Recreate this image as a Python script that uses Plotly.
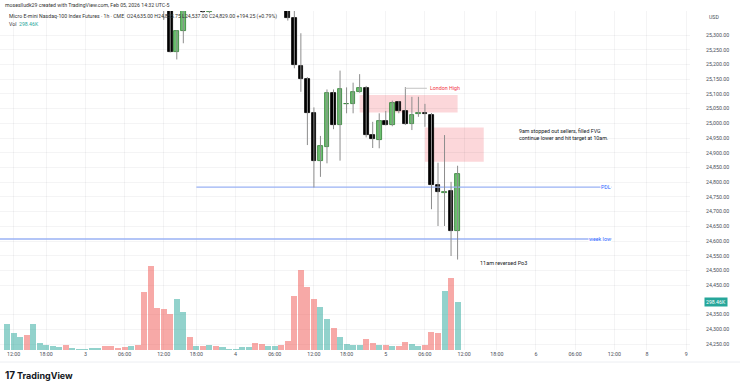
import pandas as pd
import plotly.graph_objects as go

# ---------------- data ----------------
# hourly CME session bars, first bar = Mon Feb 2 2026 11:00 (chart time UTC-5)
n_bars = 70
# volume in thousands of contracts
volume_k = [159, 107, 78, 92, 159, 44, 29, 23, 21, 29,
            15, 9, 9, 13, 15, 25, 23, 15, 17, 27,
            34, 358, 524, 264, 256, 222, 317, 235, 82, 27,
            25, 31, 27, 17, 9, 9, 17, 17, 42, 38,
            25, 23, 31, 55, 335, 495, 394, 317, 266, 193,
            140, 84, 36, 29, 29, 69, 46, 34, 29, 23,
            25, 50, 38, 25, 29, 111, 105, 369, 449, 298.46]
# 1 = up bar, 0 = down bar (volume colouring)
bar_up = [1, 1, 1, 0, 1, 1, 1, 1, 1, 0,
          1, 1, 1, 1, 1, 0, 0, 0, 0, 1,
          0, 0, 0, 0, 0, 0, 1, 1, 0, 1,
          0, 1, 0, 1, 1, 1, 1, 1, 0, 0,
          1, 1, 0, 0, 0, 0, 0, 0, 1, 1,
          0, 1, 1, 1, 1, 0, 0, 1, 0, 1,
          0, 0, 1, 1, 0, 0, 0, 1, 0, 1]
# OHLC (None = candle above the visible price range)
opens = [None] * 24 + [25445, 25402, 25243, 25315, None, None, 25425, 25377] + [None] * 11 + \
        [25405, 25357, 25196, 25150, 25034, 24872, 24920, 25104, 24994, 25064, 25067, 25106, 25121,
         24960, 24943, 25009, 24994, 25071, 25042, 24997, 25032, 25033, 25028, 24790, 24763, 24770, 24635]
highs = [None] * 24 + [25452, 25408, 25316, 25440, None, None, 25432, 25415] + [None] * 11 + \
        [25412, 25395, 25306, 25157, 25054, 24957, 25115, 25115, 25179, 25122, 25138, 25167, 25127,
         25005, 25034, 25042, 25077, 25076, 25123, 25090, 25090, 25066, 25035, 24866, 24960, 24801, 24855.75]
lows = [None] * 24 + [25351, 25241, 25217, 25272, None, None, 25375, 25374] + [None] * 11 + \
       [25349, 25187, 25107, 24926, 24782, 24818, 24864, 24980, 24873, 25034, 25034, 25104, 24952,
        24916, 24915, 24993, 24990, 25034, 24994, 24977, 25022, 24988, 24708, 24651, 24651, 24549, 24537]
closes = [None] * 24 + [25402, 25243, 25314, 25430, None, None, 25377, 25408] + [None] * 11 + \
         [25357, 25198, 25150, 25034, 24872, 24923, 25104, 24994, 25115, 25067, 25105, 25121, 24960,
          24946, 25008, 24994, 25070, 25042, 24998, 25028, 25034, 25031, 24790, 24765, 24766, 24634.75, 24829]

tick_times = ["2026-02-02 12:00", "2026-02-02 18:00", "2026-02-03 00:00", "2026-02-03 06:00",
              "2026-02-03 12:00", "2026-02-03 18:00", "2026-02-04 00:00", "2026-02-04 06:00",
              "2026-02-04 12:00", "2026-02-04 18:00", "2026-02-05 00:00", "2026-02-05 06:00",
              "2026-02-05 12:00", "2026-02-05 18:00", "2026-02-06 00:00", "2026-02-06 06:00",
              "2026-02-06 12:00", "2026-02-08 18:00", "2026-02-09 00:00"]
tick_labels = ["12:00", "18:00", "3", "06:00", "12:00", "18:00", "4", "06:00", "12:00", "18:00",
               "5", "06:00", "12:00", "18:00", "6", "06:00", "12:00", "8", "9"]

price_ticks = [v for v in range(24250, 25301, 50) if v != 24400]

# drawings (price levels / bar anchors)
fvg_london = dict(t0=54, t1=69, lo=25037, hi=25096)
fvg_9am = dict(t0=64, t1=73, lo=24869, hi=24986)
pdl_level, pdl_start = 24783, 29
week_low_level = 24607
ray_end = 92.6
london_high_level = 25119

# ---------------- bar times (CME Globex hourly sessions) ----------------
times = []
t = pd.Timestamp("2026-02-02 11:00")
while len(times) < 112:
    dow, h = t.dayofweek, t.hour
    closed = (h == 17) or (dow == 4 and h >= 17) or dow == 5 or (dow == 6 and h < 18)
    if not closed:
        times.append(t)
    t += pd.Timedelta(hours=1)
time_index = {ts.strftime("%Y-%m-%d %H:%M"): i for i, ts in enumerate(times)}
tick_idx = [time_index[s] for s in tick_times]

# ---------------- styles ----------------
UP_VOL = "rgba(38,166,154,0.5)"
DN_VOL = "rgba(239,83,80,0.5)"
UP_BODY, UP_EDGE = "#6cc070", "#2e7d32"
DN_BODY, DN_EDGE = "#000000", "#000000"
WICK = "#8d8d8d"
GRID = "rgba(42,46,57,0.05)"
TXT = "#131722"
AX = "#4a4e59"
BLUE = "#9ab2f4"
FONT = "Roboto"

fig = go.Figure()

# horizontal rays (PDL, week low) as line traces
for lvl, x0 in ((pdl_level, pdl_start), (week_low_level, -5)):
    fig.add_trace(go.Scatter(x=[x0, ray_end], y=[lvl, lvl], mode="lines",
                             line=dict(color=BLUE, width=1.4), hoverinfo="skip", showlegend=False))

# wicks
wx, wy = [], []
for k in range(n_bars):
    if highs[k] is None:
        continue
    wx += [k, k, None]
    wy += [lows[k], highs[k], None]
fig.add_trace(go.Scatter(x=wx, y=wy, mode="lines", line=dict(color=WICK, width=1),
                         connectgaps=False, hoverinfo="skip", showlegend=False))

# bodies
bk, bbase, bh, bfill, bedge = [], [], [], [], []
for k in range(n_bars):
    if opens[k] is None:
        continue
    o, c = opens[k], closes[k]
    up = c >= o
    bk.append(k)
    bbase.append(min(o, c))
    bh.append(max(abs(c - o), 3.0))
    bfill.append(UP_BODY if up else DN_BODY)
    bedge.append(UP_EDGE if up else DN_EDGE)
fig.add_trace(go.Bar(x=bk, base=bbase, y=bh, width=0.72,
                     marker=dict(color=bfill, line=dict(color=bedge, width=0.8)),
                     hoverinfo="skip", showlegend=False))

# volume
fig.add_trace(go.Bar(x=list(range(n_bars)), y=volume_k, yaxis="y2", width=0.92,
                     marker=dict(color=[UP_VOL if u else DN_VOL for u in bar_up], line=dict(width=0)),
                     hoverinfo="skip", showlegend=False))

# ---------------- drawings ----------------
shapes = []
for z in (fvg_london, fvg_9am):
    shapes.append(dict(type="rect", xref="x", yref="y", x0=z["t0"], x1=z["t1"], y0=z["lo"], y1=z["hi"],
                       fillcolor="rgba(242,54,69,0.2)", line=dict(width=0), layer="below"))
shapes.append(dict(type="line", xref="x", yref="y", x0=61.0, x1=64.3, y0=london_high_level, y1=london_high_level,
                   line=dict(color="#c4c4c4", width=1)))
# bottom separator
shapes.append(dict(type="line", xref="paper", yref="paper", x0=0, x1=740 / 690,
                   y0=1 - (362 - 11) / 339, y1=1 - (362 - 11) / 339, line=dict(color="#eceef2", width=1)))

PW, PH, MT = 690, 339, 11
def px(x):
    return x / PW
def py(y):
    return 1 - (y - MT) / PH

o, h, l, c = opens[-1], highs[-1], lows[-1], closes[-1]
chg = c - closes[-2]
pct = chg / closes[-2] * 100
ohlc_txt = f"O{o:,.2f} H{h:,.2f} L{l:,.2f} C{c:,.2f} {chg:+,.2f} ({pct:+.2f}%)"

ann = [
    dict(xref="paper", yref="paper", x=px(3), y=py(5.5), xanchor="left", yanchor="middle",
         text="moseslludk29 created with TradingView.com, Feb 05, 2026 14:32 UTC-5",
         font=dict(size=5.2, color="#333")),
    dict(xref="paper", yref="paper", x=px(6.5), y=py(16.7), xanchor="left", yanchor="middle",
         text="Micro E-mini Nasdaq-100 Index Futures · 1h · CME  " + ohlc_txt,
         font=dict(size=5.2, color="#333")),
    dict(xref="paper", yref="paper", x=px(6.5), y=py(24.5), xanchor="left", yanchor="middle",
         text=f"Vol  <span style='color:#26a69a'>{volume_k[-1]:.2f}K</span>",
         font=dict(size=5.2, color="#333")),
    dict(xref="paper", yref="paper", x=px(714), y=py(17), xanchor="center", yanchor="middle",
         text="USD", font=dict(size=5.2, color=AX)),
    dict(xref="paper", yref="y2", x=px(704), y=volume_k[-1], xanchor="left", yanchor="middle",
         text=f"{volume_k[-1]:.2f}K", bgcolor="#26a69a", borderpad=1,
         font=dict(size=5.2, color="white")),
    dict(xref="x", yref="y", x=64.5, y=london_high_level, xanchor="left", yanchor="middle",
         text="London High", font=dict(size=5.3, color="#f23645")),
    dict(xref="x", yref="y", x=78.1, y=24962, xanchor="left", yanchor="middle", align="left",
         text="9am stopped out sellers, filled FVG<br>continue lower and hit target at 10am.",
         font=dict(size=5.3, color=TXT)),
    dict(xref="x", yref="y", x=72.1, y=24525, xanchor="left", yanchor="middle",
         text="11am reversed Po3", font=dict(size=5.5, color=TXT)),
    dict(xref="x", yref="y", x=ray_end, y=pdl_level, xanchor="right", yanchor="middle",
         text="PDL", bgcolor="white", borderpad=0, font=dict(size=5.3, color="#2962ff")),
    dict(xref="x", yref="y", x=ray_end, y=week_low_level, xanchor="right", yanchor="middle",
         text="week low", bgcolor="white", borderpad=0, font=dict(size=5.3, color="#2962ff")),
    dict(xref="paper", yref="paper", x=px(3), y=py(375), xanchor="left", yanchor="middle",
         text="<b>17</b>", font=dict(size=10, color="#131722", family="Inter")),
    dict(xref="paper", yref="paper", x=px(15), y=py(375), xanchor="left", yanchor="middle",
         text="<b>TradingView</b>", font=dict(size=9, color="#131722", family="Inter")),
]
for a in ann:
    a["showarrow"] = False

fig.update_layout(
    width=740, height=386,
    margin=dict(l=0, r=50, t=11, b=36),
    paper_bgcolor="white", plot_bgcolor="white",
    barmode="overlay", showlegend=False, bargap=0,
    font=dict(family=FONT, size=5.5, color=TXT),
    xaxis=dict(range=[-1.072, 104.59], tickvals=tick_idx, ticktext=tick_labels,
               showgrid=True, gridcolor=GRID, gridwidth=1, zeroline=False, showline=False,
               ticks="", tickfont=dict(size=5.3, color=AX), fixedrange=True),
    yaxis=dict(range=[24229.6, 25381.6], side="right", tickvals=price_ticks,
               ticktext=[f"{v:,.2f}" for v in price_ticks],
               showgrid=True, gridcolor=GRID, zeroline=False, showline=False, ticks="",
               ticklabelstandoff=15, tickfont=dict(size=5.3, color=AX), fixedrange=True),
    yaxis2=dict(overlaying="y", range=[0, 2110], visible=False, fixedrange=True),
    shapes=shapes, annotations=ann,
)

fig.write_html("out.html", include_plotlyjs=True, full_html=True,
               config={"displayModeBar": False},
               post_script="document.body.style.margin='0';")
